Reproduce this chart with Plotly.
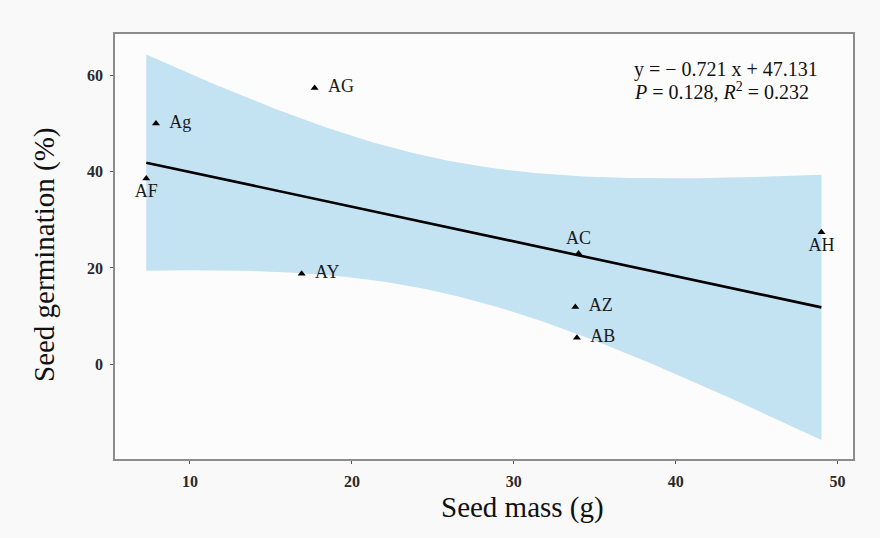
import numpy as np
import plotly.graph_objects as go

# Accessions: seed mass (g) vs seed germination (%)
labels = ["AF", "Ag", "AY", "AG", "AZ", "AB", "AC", "AH"]
seed_mass = [7.3, 7.9, 16.9, 17.7, 33.8, 33.9, 34.0, 49.0]
germination = [38.6, 50.0, 18.8, 57.4, 11.9, 5.5, 23.0, 27.4]
label_pos = ["bottom center", "middle right", "middle right", "middle right",
             "middle right", "middle right", "top center", "bottom center"]

# Reported linear fit
slope = -0.721
intercept = 47.131
t_crit = 2.447  # Student t 0.975 quantile, 6 df

x = np.array(seed_mass)
y = np.array(germination)
n = len(x)

# 95% confidence band of the fitted mean
xg = np.linspace(x.min(), x.max(), 120)
yg = intercept + slope * xg
resid = y - (intercept + slope * x)
s = np.sqrt(np.sum(resid ** 2) / (n - 2))
sxx = np.sum((x - x.mean()) ** 2)
se = s * np.sqrt(1.0 / n + (xg - x.mean()) ** 2 / sxx)
upper = yg + t_crit * se
lower = yg - t_crit * se

band_color = "#c3e2f2"
serif = "Liberation Serif, Times New Roman, serif"

fig = go.Figure()
fig.add_trace(go.Scatter(
    x=np.concatenate([xg, xg[::-1]]), y=np.concatenate([upper, lower[::-1]]),
    fill="toself", fillcolor=band_color, line=dict(width=0),
    hoverinfo="skip", showlegend=False))
fig.add_trace(go.Scatter(
    x=xg, y=yg, mode="lines", line=dict(color="black", width=2.6),
    showlegend=False))
fig.add_trace(go.Scatter(
    x=seed_mass, y=germination, mode="markers+text",
    text=[("  " + t if p == "middle right" else t) for t, p in zip(labels, label_pos)],
    textposition=label_pos,
    textfont=dict(family=serif, size=18, color="#1a1a1a"),
    marker=dict(symbol="triangle-up", size=7, color="black"),
    showlegend=False))

# Regression equation and statistics
eq_font = dict(family=serif, size=20, color="#111111")
fig.add_annotation(
    xref="paper", yref="paper", x=(632 - 115) / 738, y=(459 - 69) / 425,
    xanchor="left", yanchor="middle", showarrow=False,
    text="y = − 0.721 x + 47.131", font=eq_font)
fig.add_annotation(
    xref="paper", yref="paper", x=(632 - 115) / 738, y=(459 - 91) / 425,
    xanchor="left", yanchor="middle", showarrow=False,
    text="<i>P</i> = 0.128, <i>R</i><sup>2</sup> = 0.232", font=eq_font)

# Axis titles
title_font = dict(family=serif, size=29, color="#111111")
fig.add_annotation(
    xref="paper", yref="paper", x=(44 - 115) / 738, y=(459 - 255) / 425,
    xanchor="center", yanchor="middle", textangle=-90, showarrow=False,
    text="Seed germination (%)", font=title_font)
fig.add_annotation(
    xref="paper", yref="paper", x=(522 - 115) / 738, y=(459 - 507) / 425,
    xanchor="center", yanchor="middle", showarrow=False,
    text="Seed mass (g)", font=title_font)

axis_common = dict(
    showline=True, linecolor="#8c8c8c", linewidth=1.5, mirror=True,
    showgrid=False, zeroline=False, ticks="outside", ticklen=3,
    tickcolor="#555555", tickwidth=1, ticklabelstandoff=4,
    tickfont=dict(family=serif, size=16, color="#2a2a2a", weight="bold"))

fig.update_layout(
    width=880, height=538,
    margin=dict(l=115, r=27, t=34, b=79),
    paper_bgcolor="#f9f9f9", plot_bgcolor="#fcfcfc",
    xaxis=dict(range=[5.37, 50.95], tickvals=[10, 20, 30, 40, 50], **axis_common),
    yaxis=dict(range=[-19.7, 68.6], tickvals=[0, 20, 40, 60], **axis_common),
)

fig.write_html("out.html")
